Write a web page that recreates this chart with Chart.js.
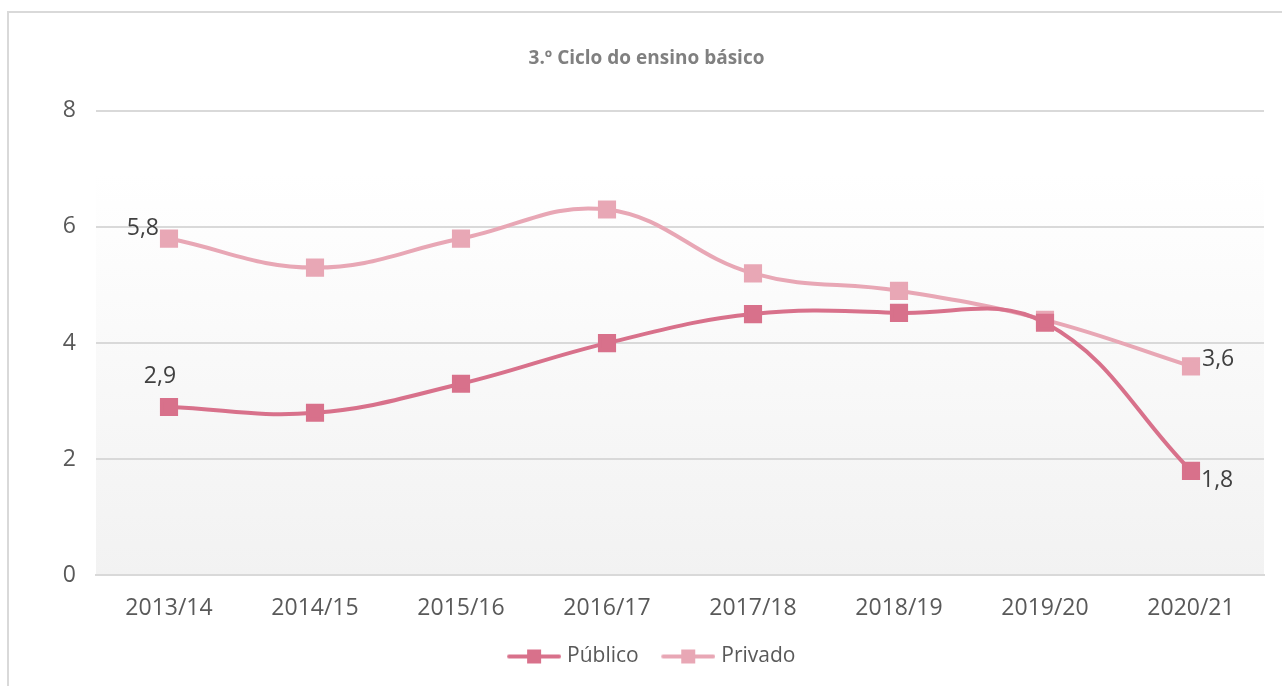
<!DOCTYPE html>
<html>
<head>
<meta charset="utf-8">
<script src="https://cdn.jsdelivr.net/npm/chart.js@4.4.0/dist/chart.umd.min.js"></script>
<style>
  html, body { margin: 0; padding: 0; background: #fff; overflow: hidden; }
  #wrap { position: absolute; left: 0; top: 0; width: 1282px; height: 686px; }
  #frame { position: absolute; left: 7px; top: 11px; width: 1290px; height: 700px;
           border-top: 2px solid #d9d9d9; border-left: 2px solid #d9d9d9; }
  canvas { position: absolute; left: 0; top: 0; }
</style>
</head>
<body>
<div id="wrap">
  <div id="frame"></div>
  <canvas id="myChart" width="1282" height="686"></canvas>
</div>
<script>
// data
const anos = ['2013/14', '2014/15', '2015/16', '2016/17', '2017/18', '2018/19', '2019/20', '2020/21'];
const publico = [2.9, 2.8, 3.3, 4.0, 4.5, 4.52, 4.35, 1.8];
const privado = [5.8, 5.3, 5.8, 6.3, 5.2, 4.9, 4.4, 3.6];
const yTicks = [0, 2, 4, 6, 8];

const corPublico = '#d8718b';
const corPrivado = '#e8a7b5';
const fonte = "'Open Sans', 'Noto Sans', sans-serif";

let ctx = document.getElementById('myChart').getContext('2d');

Chart.defaults.font.family = fonte;
Chart.defaults.color = '#595959';

// legend symbol: short line with a square in the middle (transparent margin on the left)
function legendSymbol(color) {
  const c = document.createElement('canvas');
  c.width = 68; c.height = 16;
  const g = c.getContext('2d');
  g.strokeStyle = color;
  g.lineWidth = 4;
  g.lineCap = 'round';
  g.beginPath(); g.moveTo(16, 8); g.lineTo(66, 8); g.stroke();
  g.fillStyle = color;
  g.fillRect(34, 1, 14, 14);
  return c;
}

// soft grey gradient behind the lower part of the plot area
const plotBackground = {
  id: 'plotBackground',
  beforeDraw(chart) {
    const a = chart.chartArea;
    const g = chart.ctx;
    const top = a.top + (a.bottom - a.top) * 0.134;
    const grad = g.createLinearGradient(0, top, 0, a.bottom);
    grad.addColorStop(0, '#ffffff');
    grad.addColorStop(1, '#f2f2f2');
    g.save();
    g.fillStyle = grad;
    g.fillRect(a.left, top, a.right - a.left, a.bottom - top);
    g.restore();
  }
};

// value labels on first and last points only
const endLabels = {
  id: 'endLabels',
  afterDatasetsDraw(chart) {
    const g = chart.ctx;
    g.save();
    g.font = '23px ' + fonte;
    g.fillStyle = '#404040';
    g.textBaseline = 'middle';
    const offsets = [
      // [dataset][first,last] -> dx, dy, align
      [[-9, -31, 'center'], [10, 10, 'left']],
      [[-10, -10, 'right'], [11, -7, 'left']]
    ];
    chart.data.datasets.forEach((ds, di) => {
      const meta = chart.getDatasetMeta(di);
      [0, ds.data.length - 1].forEach((idx, k) => {
        const pt = meta.data[idx];
        const o = offsets[di][k];
        g.textAlign = o[2];
        g.fillText(String(ds.data[idx]).replace('.', ','), pt.x + o[0], pt.y + o[1]);
      });
    });
    g.restore();
  }
};

const data = {
  labels: anos,
  datasets: [{
    label: 'Público',
    data: publico,
    borderColor: corPublico,
    backgroundColor: corPublico,
    borderWidth: 4,
    pointStyle: 'rect',
    pointRadius: 10,
    pointHoverRadius: 10,
    tension: 0.4
  }, {
    label: 'Privado',
    data: privado,
    borderColor: corPrivado,
    backgroundColor: corPrivado,
    borderWidth: 4,
    pointStyle: 'rect',
    pointRadius: 10,
    pointHoverRadius: 10,
    tension: 0.4
  }]
};

const config = {
  type: 'line',
  data: data,
  plugins: [plotBackground, endLabels],
  options: {
    responsive: false,
    animation: false,
    layout: { padding: { left: 29, right: 18, top: 47, bottom: 9 } },
    plugins: {
      tooltip: { enabled: false },
      title: {
        display: true,
        text: '3.º Ciclo do ensino básico',
        color: '#808080',
        font: { size: 19, weight: 'bold', family: fonte },
        padding: { top: 0, bottom: 41 }
      },
      legend: {
        position: 'bottom',
        labels: {
          usePointStyle: true,
          pointStyleWidth: 59,
          boxHeight: 16,
          padding: 13,
          font: { size: 21, family: fonte },
          color: '#595959',
          generateLabels(chart) {
            return chart.data.datasets.map((ds, i) => ({
              text: ds.label,
              pointStyle: legendSymbol(ds.borderColor),
              fillStyle: ds.borderColor,
              strokeStyle: ds.borderColor,
              lineWidth: 0,
              datasetIndex: i,
              hidden: false,
              fontColor: '#595959'
            }));
          }
        }
      }
    },
    scales: {
      x: {
        offset: true,
        grid: { display: false },
        border: { display: true, color: '#d9d9d9', width: 2 },
        ticks: { font: { size: 23 }, color: '#595959', padding: 11 }
      },
      y: {
        min: 0,
        max: 8,
        afterBuildTicks(scale) { scale.ticks = yTicks.map(v => ({ value: v })); },
        afterFit(scale) { scale.width = 67; },
        grid: { color: '#d9d9d9', lineWidth: 2, drawTicks: false },
        border: { display: false },
        ticks: { font: { size: 23 }, color: '#595959', padding: 20 }
      }
    }
  }
};

let grafico = new Chart(ctx, config);
</script>
</body>
</html>
